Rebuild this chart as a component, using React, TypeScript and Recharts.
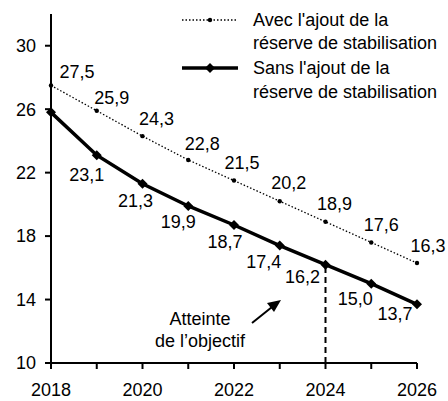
import React from 'react';
import { LineChart, Line, XAxis, YAxis, ReferenceLine, LabelList } from 'recharts';

const years = [2018, 2019, 2020, 2021, 2022, 2023, 2024, 2025, 2026];
const withReserve = [27.5, 25.9, 24.3, 22.8, 21.5, 20.2, 18.9, 17.6, 16.3];
const withoutReserve = [25.8, 23.1, 21.3, 19.9, 18.7, 17.4, 16.2, 15.0, 13.7];
const yTicks = [10, 14, 18, 22, 26, 30];
const targetYear = 2024;
const targetValue = 16.2;

const data = years.map((year, i) => ({ year, avec: withReserve[i], sans: withoutReserve[i] }));

// label offsets (px) relative to each point
const avecOffsets = [[26, -13], [15, -13], [14, -17], [14, -16], [8, -18], [9, -18], [9, -18], [10, -17], [11, -17]];
const sansOffsets = [null, [-10, 20], [-7, 17], [-10, 16], [-9, 17], [-16, 16], [-23, 12], [-16, 15], [-22, 10]];

const FONT = '"Liberation Sans", Arial, sans-serif';
const fmt = (v: number) => v.toFixed(1).replace('.', ',');

const makeLabel = (offsets: (number[] | null)[]) => (props: any) => {
  const { x, y, value, index } = props;
  const off = offsets[index];
  if (!off) return null;
  return (
    <text x={x + off[0]} y={y + off[1]} textAnchor="middle" dominantBaseline="central"
      fontSize={18} fontFamily={FONT} fill="#000">
      {fmt(value)}
    </text>
  );
};

const YearTick = (props: any) => {
  const { x, y, payload } = props;
  if (payload.value % 2 !== 0) return null;
  return (
    <text x={x} y={y + 19} textAnchor="middle" dominantBaseline="central" fontSize={18} fontFamily={FONT} fill="#000">
      {payload.value}
    </text>
  );
};

const SmallDot = (props: any) => {
  const { cx, cy } = props;
  return <circle cx={cx} cy={cy} r={2.2} fill="#000" />;
};

const Diamond = (props: any) => {
  const { cx, cy } = props;
  const s = 5;
  return <polygon points={`${cx},${cy - s} ${cx + s},${cy} ${cx},${cy + s} ${cx - s},${cy}`} fill="#000" />;
};

export default function App() {
  return (
    <div style={{ position: 'absolute', left: 0, top: 0, width: 448, height: 401, background: '#fff', fontFamily: FONT }}>
      <LineChart width={448} height={401} data={data} margin={{ top: 14, right: 31, bottom: 0, left: 0 }}>
        <XAxis
          dataKey="year"
          type="number"
          domain={[2018, 2026]}
          ticks={years}
          interval={0}
          height={38}
          stroke="#000"
          strokeWidth={2}
          tickSize={6}
          tick={<YearTick />}
        />
        <YAxis
          domain={[10, 32]}
          ticks={yTicks}
          width={51}
          stroke="#000"
          strokeWidth={2}
          tickSize={6}
          tick={{ fill: '#000', fontSize: 18, fontFamily: FONT, dx: -7 }}
        />
        <ReferenceLine
          segment={[{ x: targetYear, y: 10 }, { x: targetYear, y: targetValue }]}
          stroke="#000"
          strokeWidth={2}
          strokeDasharray="6 4"
        />
        <Line
          dataKey="avec"
          stroke="#000"
          strokeWidth={1.3}
          strokeDasharray="1.5 2"
          dot={<SmallDot />}
          activeDot={false}
          isAnimationActive={false}
        >
          <LabelList dataKey="avec" content={makeLabel(avecOffsets)} />
        </Line>
        <Line
          dataKey="sans"
          stroke="#000"
          strokeWidth={3.5}
          dot={<Diamond />}
          activeDot={false}
          isAnimationActive={false}
        >
          <LabelList dataKey="sans" content={makeLabel(sansOffsets)} />
        </Line>
      </LineChart>

      <svg width={448} height={401} style={{ position: 'absolute', left: 0, top: 0, pointerEvents: 'none' }}>
        {/* legend */}
        <line x1={182} y1={20} x2={238} y2={20} stroke="#000" strokeWidth={1.3} strokeDasharray="1.5 2" />
        <circle cx={210} cy={20} r={2.2} fill="#000" />
        <line x1={182} y1={68} x2={238} y2={68} stroke="#000" strokeWidth={3.5} />
        <polygon points="210,63 215,68 210,73 205,68" fill="#000" />
        <g fontSize={18} fontFamily={FONT} fill="#000" dominantBaseline="central">
          <text x={253} y={20}>Avec l'ajout de la</text>
          <text x={253} y={43}>réserve de stabilisation</text>
          <text x={253} y={68}>Sans l'ajout de la</text>
          <text x={253} y={92}>réserve de stabilisation</text>
        </g>
        {/* annotation */}
        <g fontSize={18} fontFamily={FONT} fill="#000" dominantBaseline="central" textAnchor="middle">
          <text x={200} y={319}>Atteinte</text>
          <text x={200} y={341}>de l’objectif</text>
        </g>
        <line x1={252} y1={323} x2={272} y2={307} stroke="#000" strokeWidth={2} />
        <polygon points="281,300 267,303 274,312" fill="#000" />
      </svg>
    </div>
  );
}
